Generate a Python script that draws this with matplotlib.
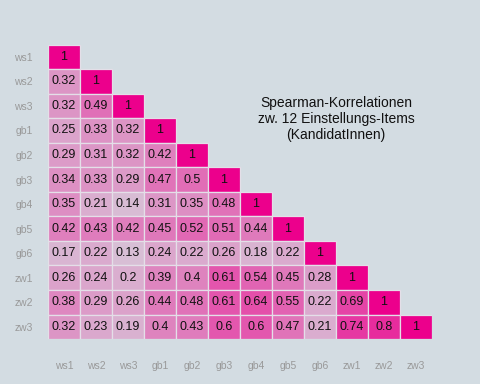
import numpy as np
import matplotlib
matplotlib.use("Agg")
import matplotlib.pyplot as plt
from matplotlib.colors import LinearSegmentedColormap
from matplotlib.patches import Rectangle

items = ["ws1", "ws2", "ws3", "gb1", "gb2", "gb3", "gb4", "gb5", "gb6", "zw1", "zw2", "zw3"]

rows = [
    [1],
    [0.32, 1],
    [0.32, 0.49, 1],
    [0.25, 0.33, 0.32, 1],
    [0.29, 0.31, 0.32, 0.42, 1],
    [0.34, 0.33, 0.29, 0.47, 0.5, 1],
    [0.35, 0.21, 0.14, 0.31, 0.35, 0.48, 1],
    [0.42, 0.43, 0.42, 0.45, 0.52, 0.51, 0.44, 1],
    [0.17, 0.22, 0.13, 0.24, 0.22, 0.26, 0.18, 0.22, 1],
    [0.26, 0.24, 0.2, 0.39, 0.4, 0.61, 0.54, 0.45, 0.28, 1],
    [0.38, 0.29, 0.26, 0.44, 0.48, 0.61, 0.64, 0.55, 0.22, 0.69, 1],
    [0.32, 0.23, 0.19, 0.4, 0.43, 0.6, 0.6, 0.47, 0.21, 0.74, 0.8, 1],
]

title = "Spearman-Korrelationen\nzw. 12 Einstellungs-Items\n(KandidatInnen)"

n = len(items)
bg = "#D3DCE2"
cmap = LinearSegmentedColormap.from_list("pk", ["#D5DAE0", "#EC008C"])

fig = plt.figure(figsize=(4.8, 3.84), dpi=100, facecolor=bg)
ax = fig.add_axes([0.1, 0.117, 0.8, 0.767])
ax.set_facecolor(bg)

for i, r in enumerate(rows):
    for j, v in enumerate(r):
        ax.add_patch(Rectangle((j, i), 1, 1, facecolor=cmap(float(v)), edgecolor="#E4DFE8",
                               linewidth=0.9))
        ax.text(j + 0.5, i + 0.5, f"{v:g}", ha="center", va="center",
                fontsize=9, color="#111111", family="Liberation Sans")

ax.set_xlim(0, n)
ax.set_ylim(n, 0)
ax.set_xticks(np.arange(n) + 0.5)
ax.set_xticklabels(items)
ax.set_yticks(np.arange(n) + 0.5)
ax.set_yticklabels(items)
ax.tick_params(axis="x", length=0, labelsize=7.5, labelcolor="#999999", pad=16)
ax.tick_params(axis="y", length=0, labelsize=7.5, labelcolor="#999999", pad=11)
for lab in ax.get_xticklabels() + ax.get_yticklabels():
    lab.set_family("Liberation Sans")
for s in ax.spines.values():
    s.set_visible(False)

fig.text(0.70, 0.69, title, ha="center", va="center", fontsize=10,
         color="#111111", family="Liberation Sans", linespacing=1.15)

fig.savefig("out.png", dpi=100, facecolor=bg)
